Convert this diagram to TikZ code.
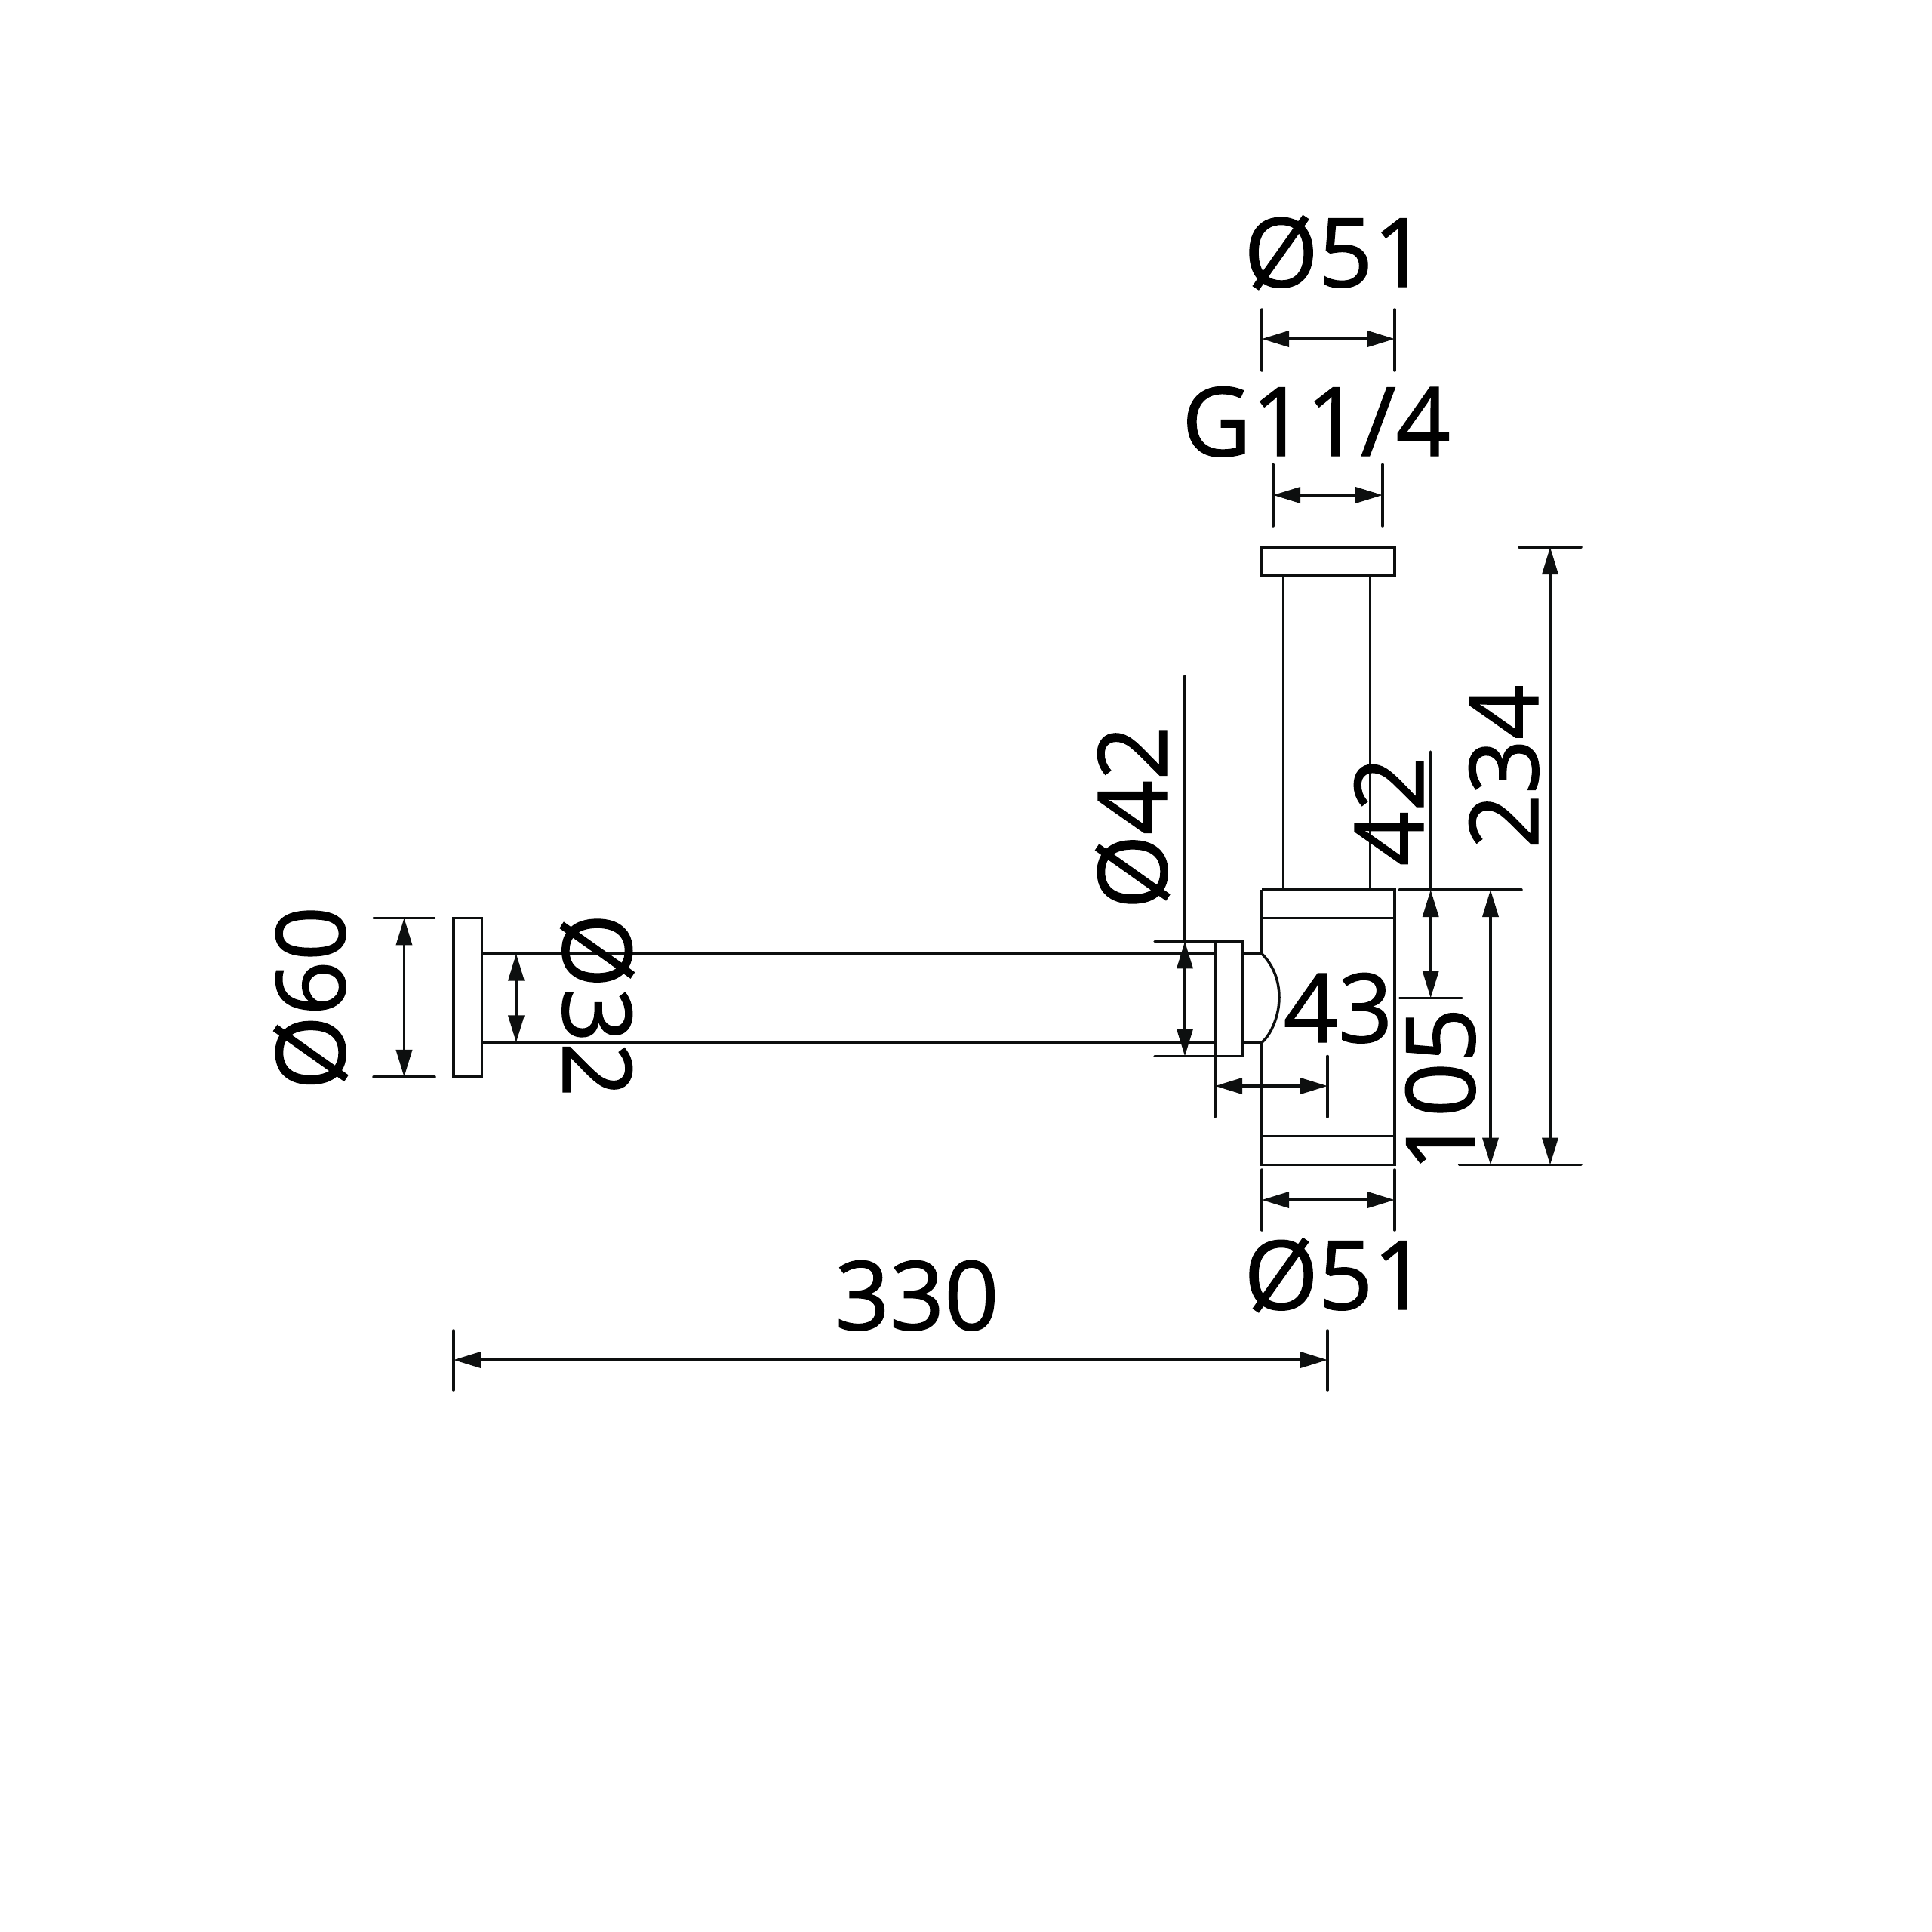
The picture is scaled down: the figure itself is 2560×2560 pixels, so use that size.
\documentclass[tikz,border=0pt]{standalone}
\usepackage{fontspec}
\setmainfont[FakeBold=1.1]{Open Sans}
\usetikzlibrary{arrows.meta}
\definecolor{lineColor}{HTML}{0D0F0F}
\tikzset{
    part/.style={draw=lineColor,line width=0.035cm},
    dimline/.style={draw=lineColor,line width=0.035cm,{Triangle[length=0.36cm,width=0.21cm]}-{Triangle[length=0.36cm,width=0.21cm]}},
    extline/.style={draw=lineColor,line width=0.035cm,line cap=round},
    dimtext/.style={inner sep=0pt,anchor=base,text=black,font=\fontsize{36}{36}\selectfont},
    dimtextup/.style={dimtext,rotate=90},
    dimtextdown/.style={dimtext,rotate=-90}
}

\begin{document}
\begin{tikzpicture}[x=0.01cm,y=-0.01cm]
    \useasboundingbox (0,0) rectangle (2560,2560);

    % vertical tube with top flange
    \draw[part] (1672,725) rectangle (1848,762.5);
    \draw[part] (1700.5,762.5) -- (1700.5,1179);
    \draw[part] (1815.6,762.5) -- (1815.6,1179);

    % body
    \draw[part] (1672,1179) -- (1848,1179) -- (1848,1543.5) -- (1672,1543.5) -- (1672,1381.3);
    \draw[part] (1672,1263.7) -- (1672,1179);
    \draw[part] (1672,1216.4) -- (1848,1216.4);
    \draw[part] (1672,1505.6) -- (1848,1505.6);
    \draw[part] (1672,1263.7) .. controls (1688,1280) and (1695,1300) .. (1695,1322) .. controls (1695,1345) and (1685,1370) .. (1672,1381.3);

    % horizontal tube with its flanges
    \draw[part] (1610,1247.4) rectangle (1646,1399.5);
    \draw[part] (1646,1263.7) -- (1672,1263.7);
    \draw[part] (1646,1381.3) -- (1672,1381.3);
    \draw[part] (601,1216.4) rectangle (638.4,1427);
    \draw[part] (638.4,1263.7) -- (1610,1263.7);
    \draw[part] (638.4,1381.3) -- (1610,1381.3);

    % dia 51 top
    \draw[extline] (1672,410) -- (1672,491);
    \draw[extline] (1848,410) -- (1848,491);
    \draw[dimline] (1672,449) -- (1848,449);
    \node[dimtext] (diaTop) at (1770,380) {Ø51};

    % thread
    \draw[extline] (1687,615.5) -- (1687,697);
    \draw[extline] (1832,615.5) -- (1832,697);
    \draw[dimline] (1687,656) -- (1832,656);
    \node[dimtext] (thread) at (1744,604) {G11/4};

    % dia 51 bottom
    \draw[extline] (1672,1550) -- (1672,1630);
    \draw[extline] (1848,1550) -- (1848,1630);
    \draw[dimline] (1672,1590) -- (1848,1590);
    \node[dimtext] (diaBottom) at (1770,1735) {Ø51};

    % length 330
    \draw[extline] (601,1763) -- (601,1842);
    \draw[extline] (1759,1763) -- (1759,1842);
    \draw[dimline] (601,1802) -- (1759,1802);
    \node[dimtext] (length) at (1215,1762) {330};

    % length 43
    \draw[extline] (1610,1399.5) -- (1610,1480);
    \draw[extline] (1759,1399.5) -- (1759,1480);
    \draw[dimline] (1610,1439) -- (1759,1439);
    \node[dimtext] (offset) at (1773,1381) {43};

    % dia 60
    \draw[extline] (495,1216.4) -- (576,1216.4);
    \draw[extline] (495,1427) -- (576,1427);
    \draw[dimline] (535.5,1216.4) -- (535.5,1427);
    \node[dimtextup] (diaFlange) at (457,1322.5) {Ø60};

    % dia 32
    \draw[dimline] (684,1263.7) -- (684,1381.3);
    \node[dimtextdown] (diaTube) at (746,1332) {Ø32};

    % dia 42
    \draw[extline] (1530,1247.4) -- (1610,1247.4);
    \draw[extline] (1530,1399.5) -- (1610,1399.5);
    \draw[extline] (1570,896) -- (1570,1247.4);
    \draw[dimline] (1570,1247.4) -- (1570,1399.5);
    \node[dimtextup] (diaCollar) at (1546,1083) {Ø42};

    % heights on the right
    \draw[extline] (1854.5,1179) -- (2016,1179);
    \draw[extline] (1854.5,1322.5) -- (1937,1322.5);
    \draw[extline] (1933.5,1543.5) -- (2095,1543.5);
    \draw[extline] (2013,725) -- (2095,725);
    \draw[extline] (1895.7,996) -- (1895.7,1179);
    \draw[dimline] (1895.7,1179) -- (1895.7,1322.5);
    \draw[dimline] (1975,1179) -- (1975,1543.5);
    \draw[dimline] (2054,725) -- (2054,1543.5);
    \node[dimtextup] (heightOutlet) at (1886,1075) {42};
    \node[dimtextup] (heightBody) at (1954,1444) {105};
    \node[dimtextup] (heightAll) at (2038,1016) {234};
\end{tikzpicture}
\end{document}
